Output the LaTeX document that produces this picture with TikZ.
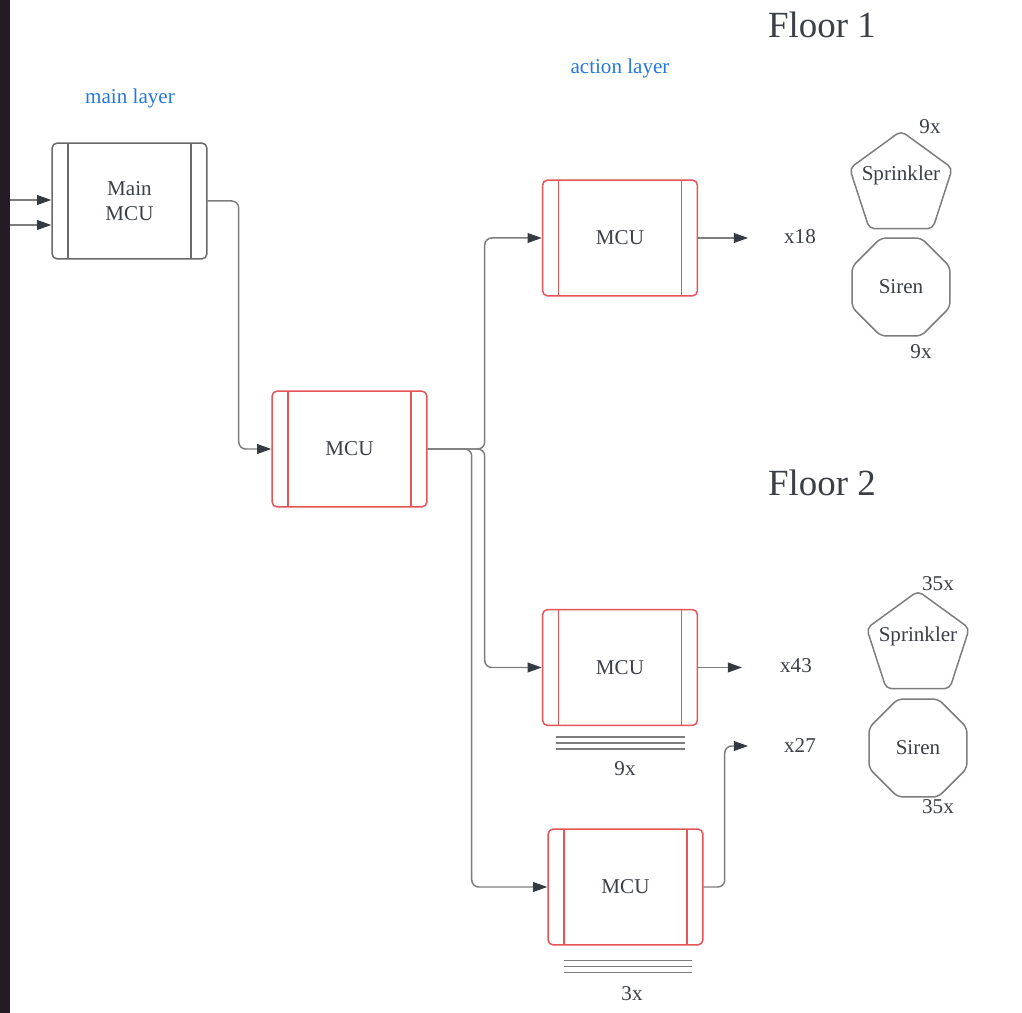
\documentclass[tikz,border=0pt]{standalone}
\usepackage{fontspec}
\setmainfont{Liberation Serif}
\usetikzlibrary{arrows.meta,positioning,calc,shapes.geometric}
\definecolor{edgegray}{RGB}{125,125,125}
\definecolor{boxgray}{RGB}{105,105,105}
\definecolor{boxred}{RGB}{228,84,88}
\definecolor{txtdark}{RGB}{60,64,70}
\definecolor{layerblue}{RGB}{38,120,222}
\definecolor{tipdark}{RGB}{52,58,66}
\definecolor{stripdark}{RGB}{36,28,36}
\tikzset{
  mcubox/.style={draw=#1, line width=0.85pt, rounded corners=3pt,
              minimum width=3.1cm, minimum height=2.32cm, inner sep=0pt,
              align=center, font=\fontsize{12}{14}\selectfont, text=txtdark,
              path picture={\draw[#1, line width=0.85pt]
                ([xshift=0.32cm]path picture bounding box.north west) -- ([xshift=0.32cm]path picture bounding box.south west)
                ([xshift=-0.32cm]path picture bounding box.north east) -- ([xshift=-0.32cm]path picture bounding box.south east);}},
  link/.style={draw=edgegray, line width=0.85pt, rounded corners=4pt,
              -{Triangle[length=8pt,width=5.5pt,color=tipdark]}},
  stackline/.style={draw=edgegray, line width=0.85pt},
  sprinkler/.style={regular polygon, regular polygon sides=5, draw=edgegray, line width=0.85pt,
              rounded corners=3pt, minimum size=2.16cm, inner sep=0pt},
  siren/.style={regular polygon, regular polygon sides=8, draw=edgegray, line width=0.85pt,
              rounded corners=3pt, minimum size=2.12cm, inner sep=0pt,
              font=\fontsize{12}{14}\selectfont, text=txtdark},
  cnt/.style={font=\fontsize{12}{14}\selectfont, text=txtdark},
  floortitle/.style={font=\fontsize{21}{25}\selectfont, text=txtdark},
  layername/.style={font=\fontsize{12}{14}\selectfont, text=layerblue},
}
\begin{document}
\begin{tikzpicture}[x=0.02cm, y=-0.02cm]
    \useasboundingbox (0,0) rectangle (1022,1013);
    \fill[white] (0,0) rectangle (1022,1013);
    \fill[stripdark] (0,0) rectangle (9.5,1013);
    % titles
    \node[layername] (mainlayer) at (130,98) {main layer};
    \node[layername] (actionlayer) at (620,68) {action layer};
    \node[floortitle] (floor1) at (822,25) {Floor 1};
    \node[floortitle] (floor2) at (822,483) {Floor 2};
    % controllers
    \node[mcubox=boxgray] (mainmcu) at (129.5,201) {Main\\MCU};
    \node[mcubox=boxred] (mcu2) at (349.5,449) {MCU};
    \node[mcubox=boxred] (mcu3) at (620,238) {MCU};
    \node[mcubox=boxred] (mcu4) at (620,667.5) {MCU};
    \node[mcubox=boxred] (mcu5) at (625.5,887) {MCU};
    \foreach \dy in {11,17,23}
      \draw[stackline] ($(mcu4.south west)+(14,\dy)$) -- ($(mcu4.south east)+(-13,\dy)$);
    \foreach \dy in {15,21,27}
      \draw[stackline] ($(mcu5.south west)+(17,\dy)$) -- ($(mcu5.south east)+(-12,\dy)$);
    \node[cnt] (n4) at (625,769) {9x};
    \node[cnt] (n5) at (632,994) {3x};
    % outputs
    \node[cnt] (x18) at (800,237) {x18};
    \node[cnt] (x43) at (796,666) {x43};
    \node[cnt] (x27) at (800,746) {x27};
    \coordinate (out18) at (748,238);
    \coordinate (out43) at (742,667.5);
    \coordinate (out27) at (748,746);
    \coordinate (in1) at (10,200);
    \coordinate (in2) at (10,225);
    % floor 1 devices
    \node[sprinkler, label={[cnt, yshift=0.2cm]center:Sprinkler}] (spr1) at (901,185) {};
    \node[siren] (sir1) at (901,287) {Siren};
    \node[cnt] (nspr1) at (930,127) {9x};
    \node[cnt] (nsir1) at (921,352) {9x};
    % floor 2 devices
    \node[sprinkler, label={[cnt, yshift=0.18cm]center:Sprinkler}] (spr2) at (918,645) {};
    \node[siren] (sir2) at (918,748) {Siren};
    \node[cnt] (nspr2) at (938,584) {35x};
    \node[cnt] (nsir2) at (938,807) {35x};
    % connections
    \draw[link] (in1) -- (mainmcu.west |- in1);
    \draw[link] (in2) -- (mainmcu.west |- in2);
    \draw[link] (mainmcu.east) -- ++(31,0) |- (mcu2.west);
    \draw[link] (mcu2.east) -- ++(57,0) |- (mcu3.west);
    \draw[link] (mcu2.east) -- ++(57,0) |- (mcu4.west);
    \draw[link] (mcu2.east) -- ++(44,0) |- (mcu5.west);
    \draw[link] (mcu3.east) -- (out18);
    \draw[link] (mcu4.east) -- (out43);
    \draw[link] (mcu5.east) -- ++(21,0) |- (out27);
\end{tikzpicture}
\end{document}
